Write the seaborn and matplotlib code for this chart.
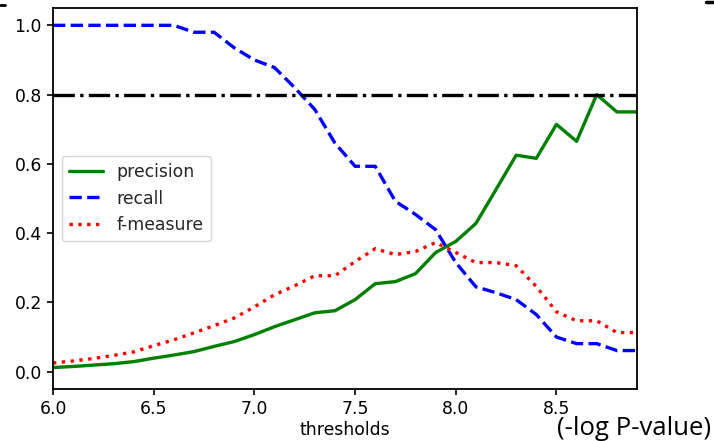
import numpy as np
import pandas as pd
import matplotlib
matplotlib.use("Agg")
import matplotlib.pyplot as plt
from matplotlib.lines import Line2D
import seaborn as sns

thresholds = [6.0, 6.1, 6.2, 6.3, 6.4, 6.5, 6.6, 6.7, 6.8, 6.9,
              7.0, 7.1, 7.2, 7.3, 7.4, 7.5, 7.6, 7.7, 7.8, 7.9,
              8.0, 8.1, 8.2, 8.3, 8.4, 8.5, 8.6, 8.7, 8.8, 8.9]
precision = [0.012, 0.015, 0.019, 0.023, 0.029, 0.039, 0.048, 0.058, 0.073, 0.087,
             0.107, 0.130, 0.150, 0.170, 0.176, 0.208, 0.254, 0.260, 0.283, 0.344,
             0.376, 0.428, 0.526, 0.625, 0.616, 0.714, 0.665, 0.800, 0.750, 0.750]
recall = [1.0, 1.0, 1.0, 1.0, 1.0, 1.0, 1.0, 0.98, 0.98, 0.935,
          0.90, 0.878, 0.82, 0.757, 0.66, 0.593, 0.593, 0.492, 0.454, 0.41,
          0.315, 0.245, 0.228, 0.208, 0.165, 0.10, 0.081, 0.081, 0.061, 0.061]
fmeasure = [0.025, 0.031, 0.038, 0.047, 0.057, 0.075, 0.092, 0.112, 0.133, 0.155,
            0.187, 0.222, 0.248, 0.277, 0.277, 0.318, 0.355, 0.338, 0.347, 0.373,
            0.344, 0.315, 0.315, 0.306, 0.246, 0.173, 0.147, 0.147, 0.113, 0.113]
target_level = 0.8

df = pd.DataFrame({"thresholds": thresholds, "precision": precision,
                   "recall": recall, "f-measure": fmeasure})

sns.set_style("ticks")
plt.rcParams["font.family"] = ["DejaVu Sans"]
FS = 12.4

fig = plt.figure(figsize=(7.14, 4.41), dpi=100)
ax = fig.add_axes([53/714, 1 - 389/441, (637 - 53)/714, (389 - 8)/441])

sns.lineplot(data=df, x="thresholds", y="precision", ax=ax, color="green",
             linestyle="-", linewidth=2.4, label="precision")
sns.lineplot(data=df, x="thresholds", y="recall", ax=ax, color="blue",
             linestyle="--", linewidth=2.4, label="recall")
sns.lineplot(data=df, x="thresholds", y="f-measure", ax=ax, color="red",
             linestyle=":", linewidth=2.4, label="f-measure")
ax.axhline(target_level, color="black", linestyle="-.", linewidth=2.4)

ax.set_xlim(6.0, 8.9)
ax.set_ylim(-0.05, 1.05)
ax.set_xticks([6.0, 6.5, 7.0, 7.5, 8.0, 8.5])
ax.set_yticks([0.0, 0.2, 0.4, 0.6, 0.8, 1.0])
ax.set_xticklabels(["6.0", "6.5", "7.0", "7.5", "8.0", "8.5"])
ax.set_yticklabels(["0.0", "0.2", "0.4", "0.6", "0.8", "1.0"])
ax.tick_params(labelsize=FS, length=4.5, width=1.2, color="black", labelcolor="black")
ax.set_xlabel("thresholds", fontsize=FS, color="black", labelpad=2)
ax.set_ylabel("")
for s in ax.spines.values():
    s.set_color("black")
    s.set_linewidth(1.3)

leg = ax.legend(loc="center left", fontsize=FS, frameon=True)
leg.get_frame().set_edgecolor("#cccccc")

fig.text(711/714, 1 - 435/441, "(-log P-value)", ha="right", va="baseline",
         fontsize=18.5, family=["Open Sans", "DejaVu Sans"], color="black")

# small cropped marks at the top corners
fig.add_artist(Line2D([0, 5/714], [1 - 5/441, 1 - 5/441], color="black", linewidth=2,
                      transform=fig.transFigure))
fig.add_artist(Line2D([706/714, 1], [1 - 1.5/441, 1 - 1.5/441], color="black", linewidth=2.5,
                      transform=fig.transFigure))

fig.savefig("out.png", dpi=100)
